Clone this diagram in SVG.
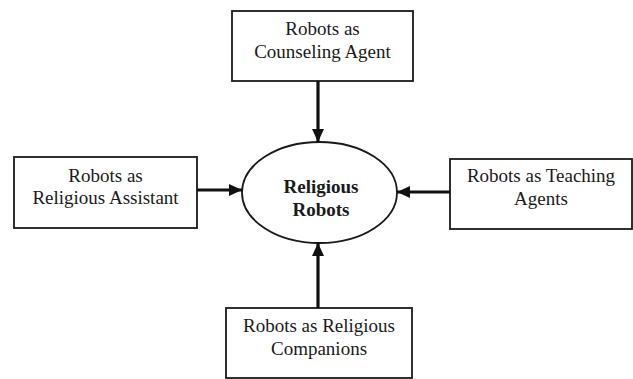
<svg xmlns="http://www.w3.org/2000/svg" width="633" height="379" viewBox="0 0 633 379">
<defs>
<style>
.box{fill:#fff;stroke:#1a1a1a;stroke-width:1.8}
.t{font-size:19px;fill:#1a1a1a;text-anchor:middle}
.b{font-weight:bold}
.c{stroke:#111;stroke-width:3.2;fill:none;marker-end:url(#ah)}
</style>
<marker id="ah" markerUnits="userSpaceOnUse" markerWidth="14" markerHeight="12" refX="13" refY="6" orient="auto">
<path d="M0,0 L13,6 L0,12 Z" fill="#111"/>
</marker>
</defs>
<rect width="633" height="379" fill="#fff"/>
<g font-family="Liberation Serif, DejaVu Serif, serif">
<g id="center">
<ellipse cx="319.5" cy="192.5" rx="77.5" ry="50.5" class="box"/>
<text class="t b" x="321" y="193">Religious</text>
<text class="t b" x="321" y="216">Robots</text>
</g>
<g id="counseling">
<rect x="232" y="11" width="181" height="70" class="box"/>
<text class="t" x="322.5" y="35">Robots as</text>
<text class="t" x="322.5" y="58">Counseling Agent</text>
</g>
<g id="assistant">
<rect x="14" y="157" width="183" height="71" class="box"/>
<text class="t" x="105.5" y="182">Robots as</text>
<text class="t" x="105.5" y="204">Religious Assistant</text>
</g>
<g id="teaching">
<rect x="450" y="159" width="182" height="70" class="box"/>
<text class="t" x="541" y="182">Robots as Teaching</text>
<text class="t" x="541" y="205">Agents</text>
</g>
<g id="companions">
<rect x="226" y="308" width="186" height="70" class="box"/>
<text class="t" x="319" y="332">Robots as Religious</text>
<text class="t" x="319" y="355">Companions</text>
</g>
</g>
<g id="connectors">
<line x1="318" y1="81" x2="318" y2="142" class="c"/>
<line x1="197" y1="190" x2="242" y2="190" class="c"/>
<line x1="450" y1="192" x2="397" y2="192" class="c"/>
<line x1="318" y1="308" x2="318" y2="243" class="c"/>
</g>
</svg>
